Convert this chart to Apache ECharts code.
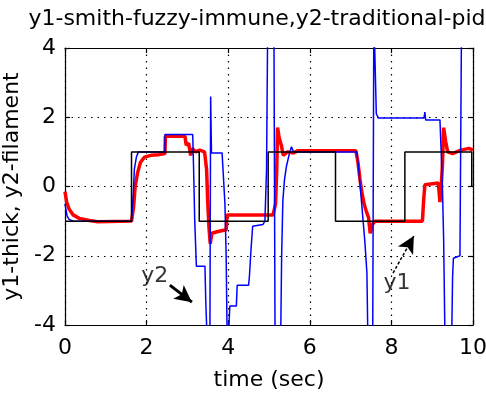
<!DOCTYPE html>
<html>
<head>
<meta charset="utf-8">
<script src="https://cdn.jsdelivr.net/npm/echarts@6/dist/echarts.min.js"></script>
<style>html,body{margin:0;padding:0;background:#fff;}#c{width:486px;height:394px;}</style>
</head>
<body>
<div id="c"></div>
<script>
var titleText = 'y1-smith-fuzzy-immune,y2-traditional-pid';
var xLabel = 'time (sec)';
var yLabel = 'y1-thick, y2-filament';
var xTicks = [0, 2, 4, 6, 8, 10];
var yTicks = [-4, -2, 0, 2, 4];

// reference square wave (black)
var refSignal = [
  [0,-1],[1.63,-1],[1.63,1],[3.29,1],[3.29,-1],[4.98,-1],[4.98,1],[6.63,1],[6.63,-1],
  [8.33,-1],[8.33,1],[9.97,1],[9.97,0]
];

// y1 smith-fuzzy-immune (thick red)
var y1 = [
  [0,-0.15],[0.04,-0.45],[0.1,-0.65],[0.2,-0.82],[0.35,-0.92],[0.6,-0.98],[0.8,-1.02],[1.63,-1.0],
  [1.68,-0.6],[1.72,0.0],[1.78,0.4],[1.85,0.7],[1.95,0.85],[2.1,0.9],[2.3,0.92],[2.45,0.95],
  [2.46,1.45],[2.94,1.45],[2.97,1.2],[3.03,1.25],[3.08,0.9],[3.12,1.1],[3.2,1.0],[3.3,1.05],[3.42,1.0],
  [3.47,0.5],[3.5,-0.5],[3.53,-1.2],[3.56,-1.65],[3.6,-1.35],[3.75,-1.3],[3.95,-1.25],[3.97,-0.82],
  [5.1,-0.82],[5.16,-0.5],[5.19,0.5],[5.21,1.7],[5.25,1.4],[5.3,1.2],[5.35,0.9],[5.45,1.0],[5.6,0.97],
  [5.7,1.03],[7.13,1.03],[7.18,0.7],[7.23,0.2],[7.28,-0.2],[7.33,-0.5],[7.38,-0.7],[7.44,-0.9],
  [7.48,-1.35],[7.53,-1.1],[7.6,-1.0],[8.76,-1.0],[8.79,-0.4],[8.82,0.05],[8.86,0.1],[9.15,0.1],
  [9.19,-0.45],[9.22,0.0],[9.25,0.6],[9.28,1.7],[9.33,1.3],[9.38,1.0],[9.5,0.95],[9.7,1.05],[9.9,1.1],[10,1.05]
];

// y2 traditional pid (thin blue)
var y2 = [
  [0,-0.5],[0.05,-0.85],[0.1,-0.95],[0.2,-1.0],[1.63,-1.0],[1.67,-0.3],[1.7,0.5],[1.75,0.85],[1.8,1.0],
  [2.45,1.0],[2.45,1.5],[3.13,1.5],[3.15,0.6],[3.18,-1.0],[3.22,-2.3],[3.43,-2.3],[3.45,-3.3],[3.5,-5],
  [3.55,-5],[3.57,2.6],[3.59,0.97],[3.85,0.97],[3.87,0.55],[3.9,0.5],[3.92,-0.5],[3.95,-2],[3.98,-5],
  [4.02,-5],[4.04,-3.45],[4.2,-3.45],[4.22,-2.85],[4.5,-2.85],[4.52,-2.6],[4.56,-1.8],[4.6,-1.15],
  [4.85,-1.1],[4.9,-1.0],[4.94,0.5],[4.97,5],[5.12,5],[5.15,-5],[5.28,-5],[5.31,-2],[5.34,-0.4],
  [5.38,0.2],[5.43,0.6],[5.5,0.95],[5.55,1.15],[5.6,1.0],[7.15,1.0],[7.2,0.5],[7.25,-0.2],[7.3,-0.9],
  [7.35,-1.6],[7.4,-2.5],[7.43,-5],[7.54,-5],[7.57,5],[7.6,5],[7.63,2.1],[7.68,1.98],[8.8,1.98],
  [8.82,2.15],[8.84,1.92],[9.19,1.92],[9.22,1.0],[9.25,0],[9.28,-1.5],[9.32,-5],[9.47,-5],[9.5,-2.6],
  [9.52,-2.07],[9.68,-2.0],[9.72,5],[10,5]
];

var FONT = 'DejaVu Sans';
var chart = echarts.init(document.getElementById('c'), null, {renderer: 'canvas'});

function axisCommon() {
  return {
    axisLine: {show: true, onZero: false, lineStyle: {color: '#000', width: 1.2}},
    axisTick: {show: true, inside: true, length: 5, lineStyle: {color: '#000', width: 1.2}}
  };
}

var option = {
  animation: false,
  backgroundColor: '#fff',
  title: {
    text: titleText, left: 252, top: 3, textAlign: 'center',
    textStyle: {fontFamily: FONT, fontSize: 22, fontWeight: 'normal', color: '#000'}
  },
  grid: {left: 65, right: 13, top: 48, bottom: 69, show: false, containLabel: false, outerBoundsMode: 'none'},
  xAxis: [
    Object.assign({
      type: 'value', min: xTicks[0], max: xTicks[xTicks.length-1], interval: 2, position: 'bottom',
      name: xLabel, nameLocation: 'middle', nameGap: 44,
      nameTextStyle: {fontFamily: FONT, fontSize: 22, color: '#000'},
      splitLine: {show: true, lineStyle: {color: '#000', type: [1.5, 5], width: 1.2}},
      axisLabel: {show: true, color: '#000', fontFamily: FONT, fontSize: 22, margin: 12}
    }, axisCommon()),
    Object.assign({
      type: 'value', min: xTicks[0], max: xTicks[xTicks.length-1], interval: 2, position: 'top',
      splitLine: {show: false}, axisLabel: {show: false}
    }, axisCommon())
  ],
  yAxis: [
    Object.assign({
      type: 'value', min: yTicks[0], max: yTicks[yTicks.length-1], interval: 2, position: 'left',
      name: yLabel, nameLocation: 'middle', nameGap: 34, nameRotate: 90,
      nameTextStyle: {fontFamily: FONT, fontSize: 22, color: '#000'},
      splitLine: {show: true, lineStyle: {color: '#000', type: [1.5, 5], width: 1.2}},
      axisLabel: {show: true, color: '#000', fontFamily: FONT, fontSize: 22, margin: 9}
    }, axisCommon()),
    Object.assign({
      type: 'value', min: yTicks[0], max: yTicks[yTicks.length-1], interval: 2, position: 'right',
      splitLine: {show: false}, axisLabel: {show: false}
    }, axisCommon())
  ],
  series: [
    {type: 'line', data: y1, showSymbol: false, clip: true, z: 2,
     lineStyle: {color: '#ff0000', width: 3.5}},
    {type: 'line', data: y2, showSymbol: false, clip: true, z: 3,
     lineStyle: {color: '#0000ff', width: 1.5}},
    {type: 'line', data: refSignal, showSymbol: false, clip: true, z: 4,
     lineStyle: {color: '#000', width: 1.5},
     markLine: {
       silent: true, symbol: ['none', 'arrow'], symbolSize: [13, 17], label: {show: false},
       data: [
         [{coord: [2.57, -2.85], lineStyle: {color: '#000', width: 3, type: 'solid'}}, {coord: [3.11, -3.34]}],
         [{coord: [8.04, -2.5], lineStyle: {color: '#000', width: 1.5, type: [3, 2]}}, {coord: [8.55, -1.43]}]
       ]
     }},
    {type: 'scatter', symbolSize: 0, z: 5, silent: true,
     data: [
       {value: [2.2, -2.59], label: {show: true, formatter: 'y2'}},
       {value: [8.14, -2.79], label: {show: true, formatter: 'y1'}}
     ],
     label: {position: 'inside', color: '#000', textBorderWidth: 0, fontFamily: FONT, fontSize: 22}}
  ]
};
chart.setOption(option);
</script>
</body>
</html>
